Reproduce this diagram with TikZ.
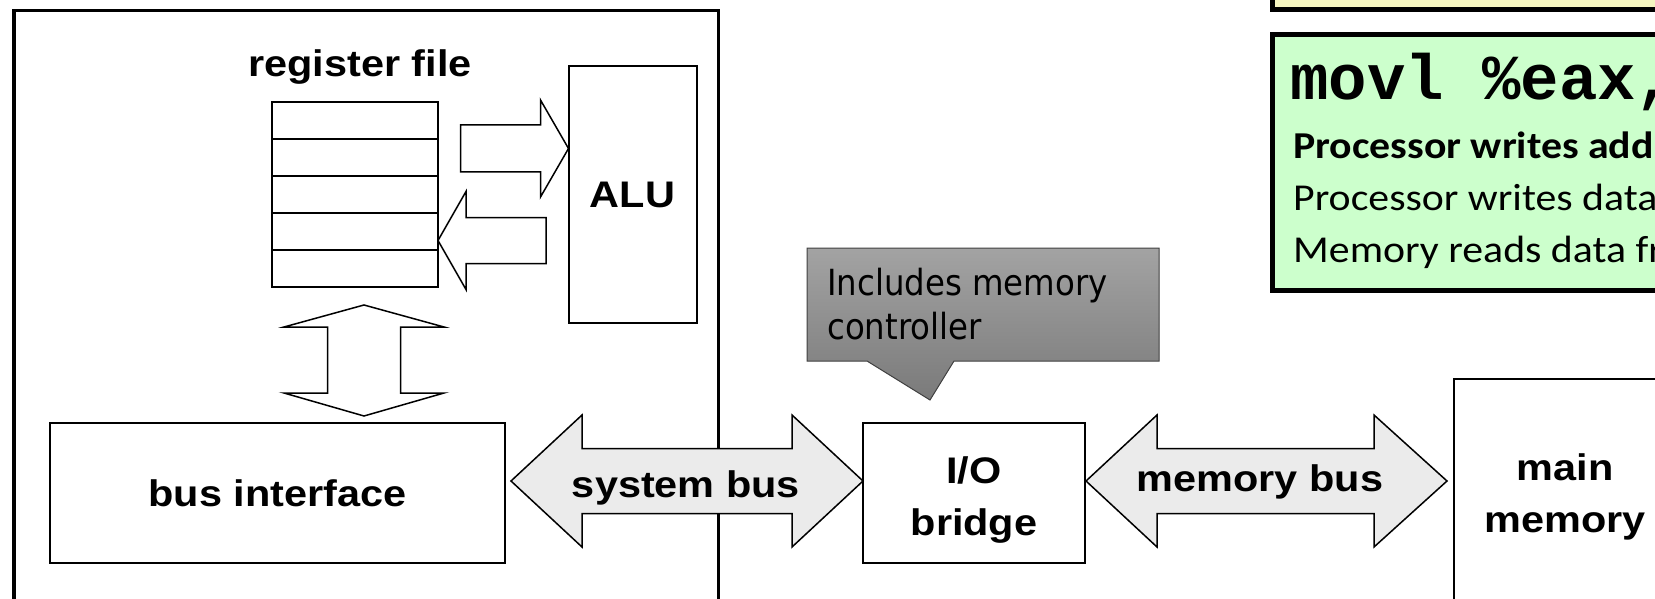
\documentclass[tikz,border=0pt]{standalone}
\usepackage{fontspec}
\setmainfont{Liberation Sans}
\newfontfamily\lblfont{Liberation Sans}[FakeStretch=1.12]
\newfontfamily\notefont{DejaVu Sans}[FakeStretch=0.9]
\newfontfamily\codefont{Liberation Mono}
\newfontfamily\stepfont{Carlito}[FakeStretch=1.1]
\usepackage{xcolor}
\usetikzlibrary{positioning, calc}
\definecolor{busgray}{RGB}{235,235,235}
\definecolor{calltop}{RGB}{163,163,163}
\definecolor{callbot}{RGB}{122,122,122}
\definecolor{stepgreen}{RGB}{204,255,204}
\definecolor{prevyellow}{RGB}{245,245,192}
\tikzset{
    unit/.style={
        draw=black,
        line width=2pt,
        inner sep=0pt,
        outer sep=0pt,
    },
    lbl/.style={
        font=\lblfont\bfseries\fontsize{37}{52}\selectfont,
        align=center,
        inner sep=0pt,
    },
    regbox/.style={
        unit,
        minimum width=166,
        minimum height=37,
    },
    blockarrow/.style={
        draw=black,
        line width=1.5pt,
        fill=white,
    },
    busarrow/.style={
        blockarrow,
        fill=busgray,
    },
    notebox/.style={
        draw=black,
        line width=5pt,
        inner sep=0pt,
        outer sep=0pt,
    },
}

\begin{document}
\begin{tikzpicture}[x=1pt, y=-1pt]
    \useasboundingbox (0,0) rectangle (1655,599);
    \clip (0,0) rectangle (1655,599);

    % cpu chip
    \node [unit, line width=3.5pt, anchor=north west, minimum width=704.5, minimum height=640] (cpu) at (14,10.5) {};

    \node [lbl, anchor=base] (rflabel) at (360,77) {register file};
    \foreach \i in {1,...,5}
        \node [regbox] (reg\i) at (355,{83.5+37*\i}) {};
    \node [unit, lbl, minimum width=128, minimum height=257] (alu) at (632.5,194.5) {ALU};
    \node [unit, lbl, minimum width=455, minimum height=140] (busif) at (277.5,493) {bus interface};

    % bridge and memory
    \node [unit, line width=2.5pt, minimum width=222, minimum height=140] (bridge) at (974,493) {};
    \node [lbl] (iolbl) at ($(bridge)+(0,7)$) {I/O\\bridge};
    \node [unit, anchor=north west, minimum width=300, minimum height=300] (mainmem) at (1454,379) {};
    \node [lbl] (mmlbl) at (1565,497) {main\\memory};

    % register file <-> ALU
    \coordinate (aluin) at ([yshift=46pt]alu.west);
    \draw [blockarrow] (aluin) -- ++(-28,-48.5) -- ++(0,25) -- ++(-80,0) -- ++(0,47) -- ++(80,0) -- ++(0,25) -- cycle;
    \coordinate (regin) at ([yshift=-9pt]reg4.east);
    \draw [blockarrow] (regin) -- ++(28,-49) -- ++(0,26) -- ++(80,0) -- ++(0,46) -- ++(-80,0) -- ++(0,26) -- cycle;

    % register file <-> bus interface
    \coordinate (regout) at ($(reg5.south)+(9,18)$);
    \draw [blockarrow] (regout) -- ++(80,22) -- ++(-43.5,0) -- ++(0,66) -- ++(43.5,0) -- ++(-80,23)
        -- ++(-80,-23) -- ++(43.5,0) -- ++(0,-66) -- ++(-43.5,0) -- cycle;

    % system bus
    \coordinate (sysL) at ($(busif.east)+(6,-12)$);
    \coordinate (sysR) at ($(bridge.west)+(0,-12)$);
    \draw [busarrow] (sysL) -- ++(71,-66) -- ++(0,33.5) -- ($(sysR)+(-71,-32.5)$) -- ++(0,-33.5) -- (sysR)
        -- ++(-71,66) -- ++(0,-33.5) -- ($(sysL)+(71,32.5)$) -- ++(0,33.5) -- cycle;
    \node [lbl, anchor=base] (syslbl) at (686,497) {system bus};

    % memory bus
    \coordinate (memL) at ($(bridge.east)+(1,-12)$);
    \coordinate (memR) at ($(mainmem.north west)+(-7,102)$);
    \draw [busarrow] (memL) -- ++(71,-66) -- ++(0,33.5) -- ($(memR)+(-73,-32.5)$) -- ++(0,-33.5) -- (memR)
        -- ++(-73,66) -- ++(0,-33.5) -- ($(memL)+(71,32.5)$) -- ++(0,33.5) -- cycle;
    \node [lbl, anchor=base] (memlbl) at (1260,491) {memory bus};

    % callout
    \coordinate (notetip) at ($(bridge.north)+(-44,-23)$);
    \draw [line width=1pt, draw=black!75, top color=calltop, bottom color=callbot]
        (807,248) -- (1159,248) -- (1159,361) -- (954,361) -- (notetip) -- (867,361) -- (807,361) -- cycle;
    \node [anchor=north west, inner sep=0pt, align=left, font=\notefont\fontsize{36}{44}\selectfont] (note) at (827,267.5) {Includes memory\\controller};

    % instruction steps
    \node [notebox, fill=prevyellow, anchor=south west, minimum width=500, minimum height=60] (prevstep) at (1272.5,9.5) {};
    \node [notebox, fill=stepgreen, anchor=north west, minimum width=500, minimum height=256] (steps) at (1272.5,34.5) {};
    \node [anchor=base west, inner sep=0pt, font=\codefont\bfseries\fontsize{64}{64}\selectfont] (instr) at (1290,100) {movl \%eax, A};
    \node [anchor=base west, inner sep=0pt, font=\stepfont\bfseries\fontsize{38}{51}\selectfont] (step1) at (1293,159) {Processor writes address A};
    \node [anchor=base west, inner sep=0pt, font=\stepfont\fontsize{38}{51}\selectfont] (step2) at (1293,210) {Processor writes data word};
    \node [anchor=base west, inner sep=0pt, font=\stepfont\fontsize{38}{51}\selectfont] (step3) at (1293,262) {Memory reads data from bus};
\end{tikzpicture}
\end{document}
